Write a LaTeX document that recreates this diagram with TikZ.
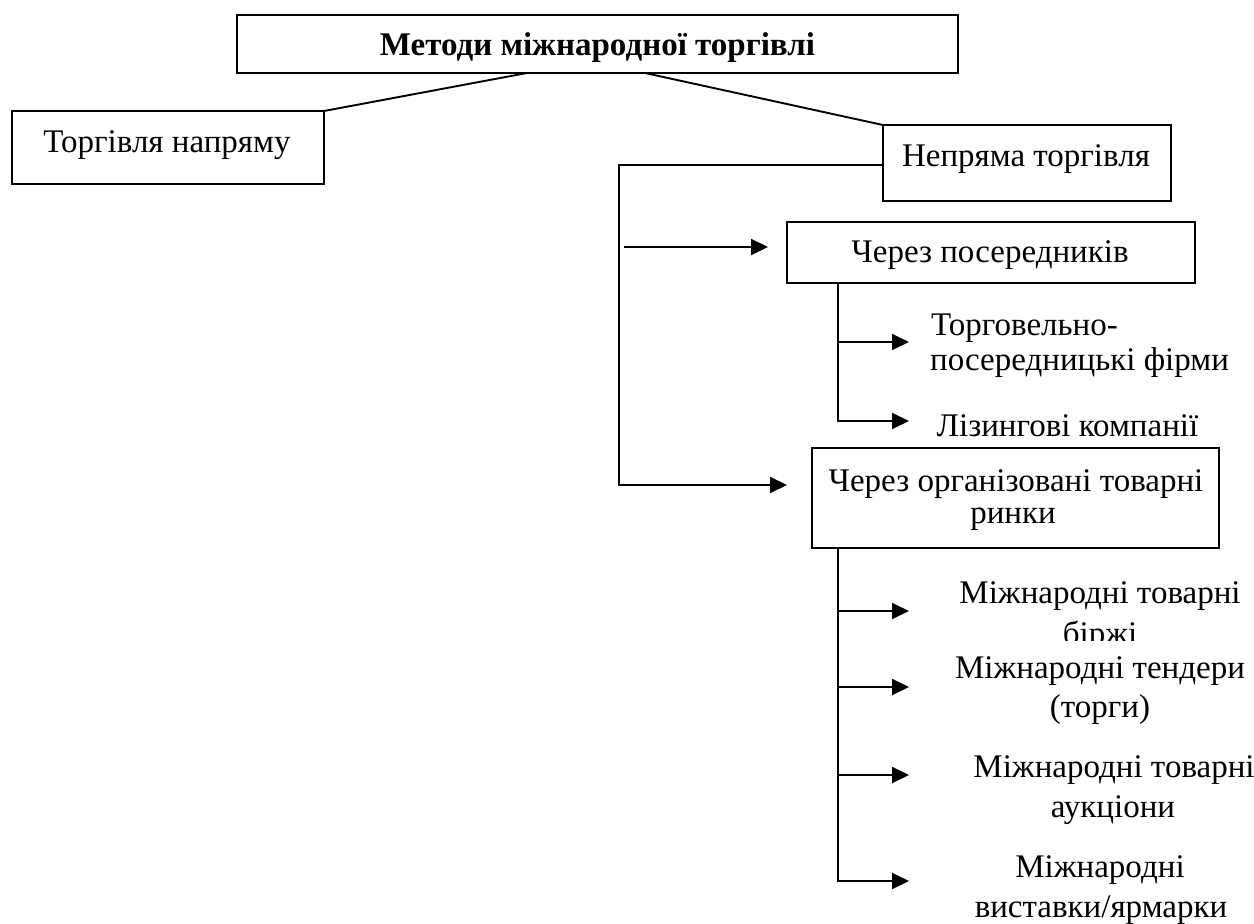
\documentclass[tikz,border=0pt]{standalone}
\usepackage{fontspec}
\setmainfont{Liberation Serif}
\usetikzlibrary{arrows.meta}
\begin{document}
\begin{tikzpicture}[x=1pt,y=-1pt,
  every node/.style={font=\fontsize{33}{36}\selectfont},
  frame/.style={draw, line width=1.9pt, inner sep=0pt, outer sep=0pt},
  txt/.style={inner sep=0pt, anchor=base},
  link/.style={line width=1.9pt},
  arr/.style={line width=1.9pt, -{Triangle[length=17pt,width=16pt]}}]
\useasboundingbox (0,0) rectangle (1254,924);

% boxes
\node[frame, minimum width=721pt, minimum height=58pt] (top) at (597.5,44) {};
\node[frame, minimum width=312pt, minimum height=73pt] (direct) at (168,147.5) {};
\node[frame, minimum width=288pt, minimum height=76pt] (indirect) at (1027,163) {};
\node[frame, minimum width=408pt, minimum height=61pt] (viaAgents) at (991,252.5) {};
\node[frame, minimum width=407pt, minimum height=100pt] (viaMarkets) at (1015.5,498) {};

% box labels
\node[txt] (topT) at (597.5,55) {\bfseries Методи міжнародної торгівлі};
\node[txt] (directT) at (167,152) {Торгівля напряму};
\node[txt] (indirectT) at (1026,166) {Непряма торгівля};
\node[txt] (agentsT) at (990,262) {Через посередників};
\node[txt] (marketsT1) at (1016,491) {Через організовані товарні};
\node[txt] (marketsT2) at (1013,523) {ринки};

% leaf labels
\node[txt, anchor=base west] (firm1) at (931,335) {Торговельно-};
\node[txt, anchor=base west] (firm2) at (930,370) {посередницькі фірми};
\node[txt] (leasing) at (1067.5,436) {Лізингові компанії};
\node[txt] (exch1) at (1100,603) {Міжнародні товарні};
\begin{scope}
  \clip (900,610) rectangle (1254,640);
  \node[txt] (exch2) at (1100,644) {біржі};
\end{scope}
\node[txt] (tend1) at (1100,678) {Міжнародні тендери};
\node[txt] (tend2) at (1100,717) {(торги)};
\node[txt] (auc1) at (1114,777) {Міжнародні товарні};
\node[txt] (auc2) at (1113,817) {аукціони};
\node[txt] (fair1) at (1100,877) {Міжнародні};
\node[txt] (fair2) at (1101,917) {виставки/ярмарки};

% connector points
\coordinate (trunkTop) at (619,165);
\coordinate (trunkBot) at (619,485);
\coordinate (a1) at (624,247);
\coordinate (b1) at ([xshift=51pt]viaAgents.south west);
\coordinate (b2) at ([xshift=26pt]viaMarkets.south west);
\coordinate (t1) at (909,342);
\coordinate (t2) at (909,421);
\coordinate (t3) at (909,611);
\coordinate (t4) at (909,687);
\coordinate (t5) at (909,775);
\coordinate (t6) at (909,881);

% top level links
\draw[link] ([xshift=290pt]top.south west) -- (direct.north east);
\draw[link] ([xshift=408pt]top.south west) -- (indirect.north west);

% indirect trade branch
\draw[arr] ([yshift=-2pt]indirect.west) -- (trunkTop) -- (trunkBot)
  -- ([xshift=-25pt,yshift=13pt]viaMarkets.west);
\draw[arr] (a1) -- ([xshift=-19pt,yshift=5.5pt]viaAgents.west);

% intermediaries
\draw[arr] (b1) -- (b1 |- t2) -- (t2);
\draw[arr] (b1 |- t1) -- (t1);

% organised markets
\draw[arr] (b2) -- (b2 |- t6) -- (t6);
\draw[arr] (b2 |- t3) -- (t3);
\draw[arr] (b2 |- t4) -- (t4);
\draw[arr] (b2 |- t5) -- (t5);
\end{tikzpicture}
\end{document}
